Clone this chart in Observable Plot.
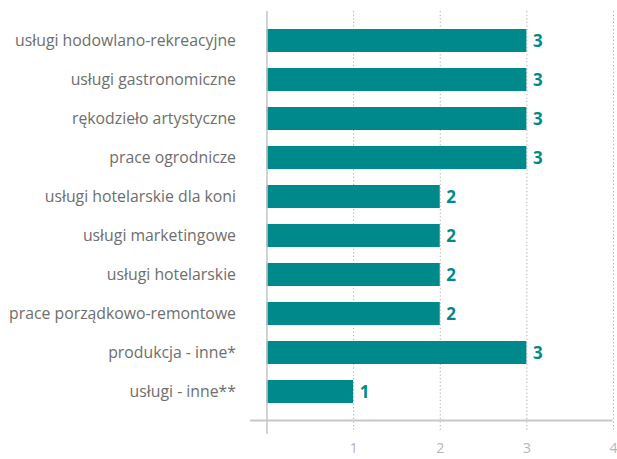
<!DOCTYPE html>
<html><head><meta charset="utf-8">
<script src="https://cdn.jsdelivr.net/npm/d3@7"></script>
<script src="https://cdn.jsdelivr.net/npm/@observablehq/plot@0.6"></script>
<style>
body{margin:0;background:#fff;}
svg{font-family:"Open Sans",sans-serif;}
</style>
</head><body>
<div id="chart"></div>
<script>
const categories = [
  "usługi hodowlano-rekreacyjne",
  "usługi gastronomiczne",
  "rękodzieło artystyczne",
  "prace ogrodnicze",
  "usługi hotelarskie dla koni",
  "usługi marketingowe",
  "usługi hotelarskie",
  "prace porządkowo-remontowe",
  "produkcja - inne*",
  "usługi - inne**"
];
const values = [3, 3, 3, 3, 2, 2, 2, 2, 3, 1];
const xTicks = [1, 2, 3, 4];

const data = categories.map((c, i) => ({category: c, value: values[i]}));
const teal = "#00898a";

const chart = Plot.plot({
  width: 617,
  height: 459,
  marginLeft: 266.5,
  marginRight: 4,
  marginTop: 19,
  marginBottom: 46,
  style: {fontFamily: "'Open Sans', sans-serif", background: "#fff"},
  x: {domain: [0, 4], axis: null},
  y: {domain: categories, paddingInner: 0.42, paddingOuter: 0.21, axis: null},
  marks: [
    Plot.ruleX(xTicks, {stroke: "#aaa", strokeDasharray: "1.2,2.4", strokeWidth: 1, insetTop: -8, insetBottom: -17}),
    Plot.frame({anchor: "bottom", stroke: "#c8c8c8", strokeWidth: 2, insetBottom: -7, insetLeft: -16, insetRight: 2}),
    Plot.barX(data, {x: "value", y: "category", fill: teal}),
    Plot.ruleX([0], {stroke: "#c4c4c4", strokeWidth: 1.5, insetTop: -8, insetBottom: -21}),
    Plot.text(data, {x: "value", y: "category", text: d => String(d.value), textAnchor: "start", dx: 6, dy: 1, fill: teal, fontWeight: "bold", fontSize: 17}),
    Plot.axisY({tickSize: 0, tickPadding: 31, fontSize: 15.8, color: "#6e6e6e", label: null}),
    Plot.axisX(xTicks, {tickSize: 0, tickPadding: 30, fontSize: 14, color: "#b5b5b5", label: null})
  ]
});
document.getElementById("chart").appendChild(chart);
</script>
</body></html>
